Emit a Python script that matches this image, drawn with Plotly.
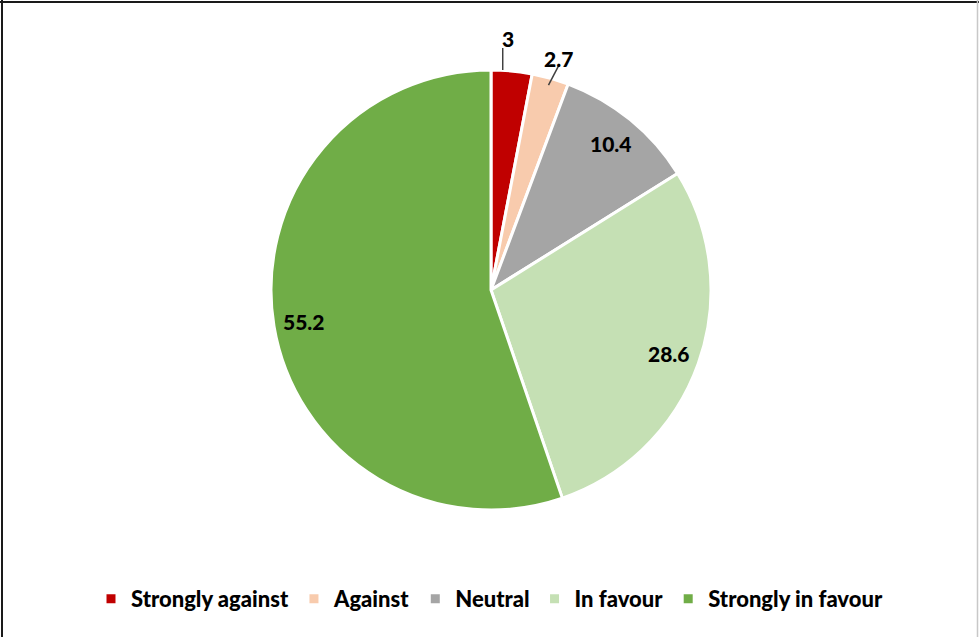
import math
import plotly.graph_objects as go

# Survey responses (percent)
categories = ["Strongly against", "Against", "Neutral", "In favour", "Strongly in favour"]
values = [3, 2.7, 10.4, 28.6, 55.2]
colors = ["#C00000", "#F8CBAD", "#A5A5A5", "#C5E0B4", "#70AD47"]

W, H = 979, 637
CX, CY, R = 491, 290, 220  # pie centre and radius in pixels

FONT = "Lato"

fig = go.Figure(go.Pie(
    labels=categories,
    values=values,
    marker=dict(colors=colors, line=dict(color="white", width=3)),
    sort=False,
    direction="clockwise",
    rotation=0,
    textinfo="none",
    hoverinfo="label+value",
    domain=dict(x=[(CX - R) / W, (CX + R) / W], y=[(H - CY - R) / H, (H - CY + R) / H]),
))


def px(x, y):
    return x / W, 1 - y / H


def polar(frac, rr):
    a = 2 * math.pi * frac
    return CX + rr * math.sin(a), CY - rr * math.cos(a)


label_font = dict(family=FONT, size=21, color="black", weight=900)

total = sum(values)
annotations = []
shapes = []
cum = 0.0
for i, v in enumerate(values):
    mid = (cum + v / 2) / total
    cum += v
    text = f"{v:g}"
    if v >= 5:
        x, y = polar(mid, 0.86 * R)
        ax_, ay_ = px(x, y)
        annotations.append(dict(x=ax_, y=ay_, xref="paper", yref="paper", text=text,
                                xanchor="center", yanchor="middle",
                                showarrow=False, font=label_font))
    else:
        # small slices: label outside with a leader line
        if i == 0:
            sx, sy = polar(mid, R)
            x0, y0 = sx - 9, sy - 1
            x1, y1 = x0, 48
            lx, ly = x0 + 5, 39
        else:
            x0, y0 = polar(mid, 0.967 * R)
            x1, y1 = x0 + 11, y0 - 21
            lx, ly = x1 - 1, y1 - 6
        a0 = px(x0, y0)
        a1 = px(x1, y1)
        shapes.append(dict(type="line", xref="paper", yref="paper",
                           x0=a0[0], y0=a0[1], x1=a1[0], y1=a1[1],
                           line=dict(color="#404040", width=1.5)))
        lpx, lpy = px(lx, ly)
        annotations.append(dict(x=lpx, y=lpy, xref="paper", yref="paper", text=text,
                                xanchor="center", yanchor="middle",
                                showarrow=False, font=label_font))

# chart frame
shapes += [
    dict(type="line", xref="paper", yref="paper", x0=0, x1=1, y0=1 - 2 / H, y1=1 - 2 / H,
         line=dict(color="#1a1a1a", width=2)),
    dict(type="line", xref="paper", yref="paper", x0=2 / W, x1=2 / W, y0=0, y1=1,
         line=dict(color="#1a1a1a", width=2)),
    dict(type="line", xref="paper", yref="paper", x0=977.5 / W, x1=977.5 / W, y0=0, y1=1,
         line=dict(color="#c8c8c8", width=1.5)),
]

fig.update_layout(
    width=W, height=H,
    margin=dict(l=0, r=0, t=0, b=0),
    paper_bgcolor="white",
    plot_bgcolor="white",
    showlegend=True,
    legend=dict(orientation="h", x=0.5, xanchor="center", y=1 - 599 / H, yanchor="middle",
                font=dict(family=FONT, size=22, color="black", weight=900), itemwidth=30,
                traceorder="normal"),
    annotations=annotations,
    shapes=shapes,
)

fig.write_html("out.html")
